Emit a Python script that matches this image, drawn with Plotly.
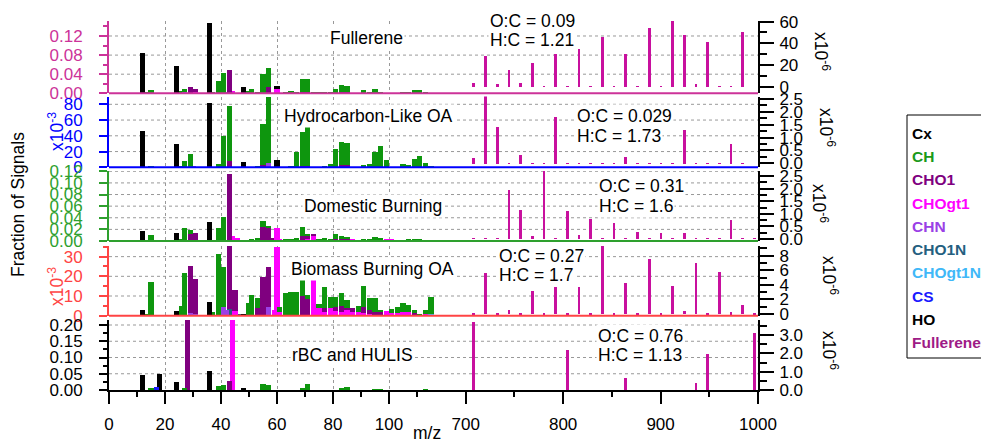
import plotly.graph_objects as go

# ---------------- data (fraction of signal; high-mass values in x10^-6) ----------------
# Panel 1: Fullerene
FUL_CX = [(12, .084), (24, .057), (36, .148), (48, .014), (60, .007)]
FUL_CH = [(13, .002), (15, .007), (25, .004), (27, .007), (37, .002), (39, .025), (41, .042),
          (50, .005), (51, .008), (53, .003), (55, .040), (57, .041), (63, .002), (65, .004),
          (67, .003), (69, .027), (71, .028), (73, .002), (75, .002), (77, .002), (79, .003),
          (81, .008), (83, .015), (85, .013), (91, .006), (93, .003), (95, .008), (97, .002),
          (105, .002), (107, .002), (109, .005), (111, .006), (113, .002)]
FUL_CHO1 = [(29, .0126), (31, .004), (43, .049), (57, .013), (69, .003), (71, .002), (83, .002),
            (85, .002), (109, .001), (111, .001)]
FUL_CHOGT1 = [(31, .004), (44, .002), (60, .008)]
FUL_CHN = [(27, .002), (30, .003), (42, .001), (44, .001)]

# Panel 2: Hydrocarbon-Like OA
HOA_CX = [(12, .0461), (24, .0296), (36, .082), (48, .0072), (60, .0093)]
HOA_CH = [(15, .0015), (26, .002), (27, .0085), (29, .0178), (39, .0042), (41, .0398), (43, .069),
          (51, .001), (53, .002), (55, .051), (57, .0827), (65, .0015), (67, .0197), (69, .0433),
          (71, .0496), (77, .002), (79, .005), (81, .024), (83, .0296), (85, .0287), (91, .004),
          (93, .005), (95, .0197), (97, .0273), (99, .0093), (105, .005), (107, .003), (109, .0118),
          (111, .0144), (113, .0063), (115, .0017)]
HOA_CHO1 = [(43, .009), (55, .004), (67, .001), (69, .002), (71, .002), (83, .003), (85, .003), (97, .001)]
HOA_CHN = [(30, .0012), (57, .0066)]
HOA_CHOGT1 = [(44, .001)]

# Panel 3: Domestic Burning
DOM_CX = [(12, .0177), (24, .013), (36, .032), (48, .0017)]
DOM_CH = [(15, .0097), (26, .002), (27, .0197), (29, .0065), (39, .0217), (41, .0385), (51, .002),
          (53, .0046), (55, .0097), (57, .002), (63, .002), (65, .0035), (67, .006), (69, .0144),
          (71, .002), (75, .003), (77, .006), (79, .004), (81, .008), (83, .004), (85, .002),
          (91, .004), (93, .003), (95, .005), (97, .003), (107, .002), (109, .003), (111, .002)]
DOM_CHO1 = [(29, .0103), (31, .0123), (43, .113), (55, .0246), (57, .022), (58, .005), (69, .009),
            (71, .006), (73, .004), (81, .004), (83, .004), (85, .002), (95, .002), (97, .002)]
DOM_CHOGT1 = [(31, .002), (44, .0086), (46, .005), (60, .0206), (61, .003), (71, .004), (73, .008),
              (85, .003), (87, .003), (99, .002), (101, .002)]
DOM_CHN = [(27, .002), (29, .002), (30, .002), (41, .002), (57, .002)]
DOM_CHO1N = [(43, .002)]
DOM_CHOGT1N = [(60, .001)]

# Panel 4: Biomass Burning OA
BB_CX = [(12, .0029), (24, .0022), (36, .0068), (48, .0004)]
BB_CH = [(13, .001), (15, .0169), (26, .0049), (27, .0215), (37, .002), (39, .0314), (41, .0203),
         (50, .0066), (51, .0105), (53, .005), (61, .0026), (63, .0114), (65, .0122), (67, .0122),
         (69, .0081), (71, .002), (75, .002), (77, .0107), (79, .0054), (81, .0051), (83, .0064),
         (85, .0042), (89, .003), (91, .0106), (93, .0059), (95, .0069), (97, .001), (101, .002),
         (103, .0031), (105, .0045), (107, .0035), (109, .0015), (111, .001), (113, .002), (115, .0084)]
BB_CHO1 = [(29, .0238), (31, .0177), (43, .032), (45, .0107), (53, .0038), (55, .0198), (57, .020),
           (69, .010), (71, .0083), (77, .002), (81, .002), (83, .003), (85, .001), (87, .002),
           (91, .003), (93, .002), (95, .002), (97, .0019), (109, .0015)]
BB_CHOGT1 = [(45, .0024), (59, .003), (60, .0339), (61, .002), (73, .0181), (75, .0038), (77, .002),
             (79, .004), (81, .0023), (83, .002), (85, .003), (87, .0018), (89, .002), (91, .0015),
             (93, .001), (99, .0023), (101, .0013), (103, .0015), (105, .002), (107, .002), (113, .001)]
BB_CHN = [(29, .0015), (31, .001), (41, .0046), (42, .003), (57, .0046)]
BB_CHO1N = [(43, .0036), (47, .0008)]
BB_CHOGT1N = [(60, .0012), (115, .001)]

# Panel 5: rBC and HULIS
RBC_CX = [(12, .046), (24, .024), (36, .058), (48, .005)]
RBC_CH = [(15, .004), (27, .005), (39, .012), (41, .014), (55, .018), (57, .014), (69, .005),
          (71, .018), (83, .006), (85, .009), (95, .002), (97, .003), (113, .001)]
RBC_CHO1 = [(28, .215), (43, .028)]
RBC_CHOGT1 = [(44, .215)]
RBC_CS = [(17, .010)]
RBC_HO = [(18, .048)]

# High-mass fullerene ions (x10^-6)
HIGH_MZ = [708, 720, 732, 744, 756, 768, 780, 792, 804, 816, 828, 840, 852,
           864, 876, 888, 900, 912, 924, 936, 948, 960, 972, 984, 996]
FUL_HIGH = [3.1, 28.6, 2.5, 15.4, 3.7, 21.5, 0.5, 30.2, 0.6, 35.0, 0.5, 46.0, 0.4,
            29.8, 0.3, 54.0, 0.2, 62.0, 48.0, 2.5, 41.0, 0.2, 0.2, 50.0, 0.0]
HOA_HIGH = [0.22, 2.75, 1.45, 0.02, 0.36, 0.02, 0.02, 1.84, 0.02, 0.02, 0.02, 0.02, 0.02,
            0.26, 0.02, 0.02, 0.02, 0.02, 1.32, 0.02, 0.02, 0.02, 0.78, 0.02, 0.0]
DOM_HIGH = [0.02, 0.02, 0.02, 1.95, 1.15, 0.13, 2.7, 0.02, 1.12, 0.15, 0.79, 0.02, 0.62,
            0.02, 0.29, 0.02, 0.22, 0.02, 0.22, 0.02, 0.02, 0.02, 0.75, 0.02, 0.02]
BB_HIGH = [0.03, 5.6, 0.03, 0.55, 0.03, 3.15, 0.03, 3.65, 0.03, 3.65, 0.03, 9.3, 0.03,
           4.2, 0.03, 7.5, 0.2, 3.9, 0.45, 7.0, 0.03, 5.8, 0.25, 1.2, 0.1]
RBC_HIGH = [3.69, 0, 0, 0, 0, 0, 0, 0, 2.18, 0, 0, 0, 0,
            0.64, 0, 0, 0, 0, 0, 0.4, 1.96, 0, 0, 0, 3.13]

PANEL_NAMES = ["Fullerene", "Hydrocarbon-Like OA", "Domestic Burning", "Biomass Burning OA", "rBC and HULIS"]
OC_TEXT = ["0.09", "0.029", "0.31", "0.27", "0.76"]
HC_TEXT = ["1.21", "1.73", "1.6", "1.7", "1.13"]
LEGEND_NAMES = ["Cx", "CH", "CHO1", "CHOgt1", "CHN", "CHO1N", "CHOgt1N", "CS", "HO", "Fullerene"]

# left-axis ticks per panel
LEFT_TICKS = [[0, .04, .08, .12], [0, .02, .04, .06, .08], [0, .02, .04, .06, .08, .10, .12],
              [0, .01, .02, .03], [0, .05, .10, .15, .20]]
LEFT_TEXT = [["0.00", "0.04", "0.08", "0.12"], ["0", "20", "40", "60", "80"],
             ["0.00", "0.02", "0.04", "0.06", "0.08", "0.10", "0.12"],
             ["0", "10", "20", "30"], ["0.00", "0.05", "0.10", "0.15", "0.20"]]
RIGHT_TICKS = [[0, 20, 40, 60], [0, .5, 1, 1.5, 2, 2.5], [0, .5, 1, 1.5, 2, 2.5], [0, 2, 4, 6, 8], [0, 1, 2, 3]]
RIGHT_TEXT = [["0", "20", "40", "60"], ["0.0", "0.5", "1.0", "1.5", "2.0", "2.5"],
              ["0.0", "0.5", "1.0", "1.5", "2.0", "2.5"], ["0", "2", "4", "6", "8"],
              ["0.0", "1.0", "2.0", "3.0"]]

# ---------------- styling ----------------
FONT = "Arial, Liberation Sans, sans-serif"
COLORS = {"Cx": "#000000", "CH": "#0E960E", "CHO1": "#7F007F", "CHOgt1": "#FF00FF",
          "CHN": "#9A40E6", "CHO1N": "#255F80", "CHOgt1N": "#40B8F8", "CS": "#1A1AFF",
          "HO": "#000000", "Fullerene": "#C8109E"}
LEG_COLORS = dict(COLORS, CH="#1A9A1A", Fullerene="#9E1B86")
AXIS_COLORS = ["#CC3399", "#0000FF", "#2EA02E", "#FF4444", "#000000"]
STACK_ORDER = ["HO", "CS", "CHOgt1N", "CHO1N", "CHN", "CHOgt1", "CHO1", "CH", "Cx"]

LOW = [
    {"Cx": FUL_CX, "CH": FUL_CH, "CHO1": FUL_CHO1, "CHOgt1": FUL_CHOGT1, "CHN": FUL_CHN},
    {"Cx": HOA_CX, "CH": HOA_CH, "CHO1": HOA_CHO1, "CHOgt1": HOA_CHOGT1, "CHN": HOA_CHN},
    {"Cx": DOM_CX, "CH": DOM_CH, "CHO1": DOM_CHO1, "CHOgt1": DOM_CHOGT1, "CHN": DOM_CHN,
     "CHO1N": DOM_CHO1N, "CHOgt1N": DOM_CHOGT1N},
    {"Cx": BB_CX, "CH": BB_CH, "CHO1": BB_CHO1, "CHOgt1": BB_CHOGT1, "CHN": BB_CHN,
     "CHO1N": BB_CHO1N, "CHOgt1N": BB_CHOGT1N},
    {"Cx": RBC_CX, "CH": RBC_CH, "CHO1": RBC_CHO1, "CHOgt1": RBC_CHOGT1, "CS": RBC_CS, "HO": RBC_HO},
]
HIGH = [FUL_HIGH, HOA_HIGH, DOM_HIGH, BB_HIGH, RBC_HIGH]

# layout geometry (pixels)
W, H = 981, 442
L, R, T, B = 109, 223, 21, 52
PW, PH = W - L - R, H - T - B
PANEL_PX = [(21, 93.3), (96.5, 167.3), (171, 241), (246, 315.7), (320, 390)]
LEFT_RANGE = [[0, .1514], [0, .0899], [0, .1205], [0, .0354], [0, .2154]]
RIGHT_RANGE = [[-6.1, 60.6], [-0.156, 2.6], [-0.08, 2.7], [-0.23, 9.33], [0, 3.82]]
LEFT_MINOR = [.02, None, None, .005, .025]
RIGHT_MINOR = [10, .25, .25, 1, .5]
BREAK_FRAC = 356.7 / PW


def px2x(px):
    return (px - L) / PW


def px2y(py):
    return 1 - (py - T) / PH


fig = go.Figure()

for p in range(5):
    ya = "y" if p == 0 else f"y{p + 1}"
    for fam in STACK_ORDER:
        pts = LOW[p].get(fam)
        if not pts:
            continue
        fig.add_trace(go.Bar(x=[m for m, v in pts], y=[v for m, v in pts], width=1.9,
                             marker=dict(color=COLORS[fam], line=dict(width=0)),
                             xaxis="x", yaxis=ya, showlegend=False, name=fam))
    fig.add_trace(go.Bar(x=HIGH_MZ, y=HIGH[p], width=2.8,
                         marker=dict(color=COLORS["Fullerene"], line=dict(width=0)),
                         xaxis="x2", yaxis=f"y{p + 6}", showlegend=False, name="Fullerene"))

tickfont = dict(family=FONT, size=17)
layout = dict(
    width=W, height=H, margin=dict(l=L, r=R, t=T, b=B, autoexpand=False),
    paper_bgcolor="white", plot_bgcolor="white", barmode="stack", bargap=0,
    font=dict(family=FONT, size=17, color="black"), showlegend=False,
    xaxis=dict(domain=[0, BREAK_FRAC], range=[0, 356.7 / 2.8], anchor="y5",
               tickmode="array", tickvals=[0, 20, 40, 60, 80, 100],
               ticks="outside", ticklen=12, tickwidth=1.5, tickcolor="black",
               minor=dict(tickmode="array", tickvals=[10, 30, 50, 70, 90, 110], ticks="outside",
                          ticklen=5, tickwidth=1.5, tickcolor="black", showgrid=False),
               showline=True, linecolor="black", linewidth=1.5, zeroline=False,
               showgrid=True, gridcolor="#999999", griddash="dot", gridwidth=1,
               tickfont=tickfont, ticklabelstandoff=6),
    xaxis2=dict(domain=[BREAK_FRAC, 1], range=[700, 1000], anchor="y10",
                tickmode="array", tickvals=[700, 800, 900, 1000],
                ticks="outside", ticklen=12, tickwidth=1.5, tickcolor="black",
                minor=dict(tickmode="array", tickvals=[750, 850, 950], ticks="outside",
                           ticklen=5, tickwidth=1.5, tickcolor="black", showgrid=False),
                showline=True, linecolor="black", linewidth=1.5, zeroline=False, showgrid=False,
                tickfont=tickfont, ticklabelstandoff=6),
)

shapes = []
annotations = []
for p in range(5):
    top, bot = PANEL_PX[p]
    dom = [px2y(bot), px2y(top)]
    col = AXIS_COLORS[p]
    lkey = "yaxis" if p == 0 else f"yaxis{p + 1}"
    ly = dict(domain=dom, range=LEFT_RANGE[p], anchor="x", side="left",
              tickmode="array", tickvals=LEFT_TICKS[p], ticktext=LEFT_TEXT[p],
              ticks="outside", ticklen=8, tickwidth=1.5, tickcolor=col,
              showline=True, linecolor=col, linewidth=2, zeroline=False, showgrid=False,
              tickfont=dict(family=FONT, size=17, color=col), ticklabelstandoff=13)
    if LEFT_MINOR[p]:
        ly["minor"] = dict(dtick=LEFT_MINOR[p], tick0=0, ticks="outside", ticklen=4,
                           tickwidth=1.5, tickcolor=col, showgrid=False)
    layout[lkey] = ly
    layout[f"yaxis{p + 6}"] = dict(
        domain=dom, range=RIGHT_RANGE[p], anchor="x2", side="right",
        tickmode="array", tickvals=RIGHT_TICKS[p], ticktext=RIGHT_TEXT[p],
        ticks="outside", ticklen=14, tickwidth=1.5, tickcolor="black",
        minor=dict(dtick=RIGHT_MINOR[p], tick0=0, ticks="outside", ticklen=7,
                   tickwidth=1.5, tickcolor="black", showgrid=False),
        showline=True, linecolor="black", linewidth=2, zeroline=False, showgrid=False,
        tickfont=dict(family=FONT, size=17, color="black"), ticklabelstandoff=2)

    yref = "y" if p == 0 else f"y{p + 1}"
    # horizontal dotted grid across the whole panel (left-axis major ticks)
    for v in LEFT_TICKS[p][1:]:
        if v < LEFT_RANGE[p][1] - 1e-4:
            shapes.append(dict(type="line", xref="paper", yref=yref, x0=0, x1=1, y0=v, y1=v,
                               line=dict(color="#999999", width=1, dash="dot"), layer="below"))
    # coloured panel baseline
    if p < 4:
        shapes.append(dict(type="line", xref="paper", yref=f"{yref} domain", x0=0, x1=1, y0=0, y1=0,
                           line=dict(color=col, width=2), layer="above"))

    # panel titles and O:C / H:C boxes
    title_pos = [(366, 38), (368, 116), (373, 206), (372, 269), (352, 355)][p]
    annotations.append(dict(text=PANEL_NAMES[p], xref="paper", yref="paper",
                            x=px2x(title_pos[0]), y=px2y(title_pos[1]), xanchor="center", yanchor="middle",
                            showarrow=False, bgcolor="white", borderpad=1,
                            font=dict(family=FONT, size=17.5, color="black")))
    oc_pos = [(488, 21, 40), (575, 116, 136), (597, 186, 206), (497, 256, 275), (596, 336, 355)][p]
    annotations.append(dict(text=f"O:C = {OC_TEXT[p]}", xref="paper", yref="paper",
                            x=px2x(oc_pos[0]), y=px2y(oc_pos[1]), xanchor="left", yanchor="middle",
                            showarrow=False, bgcolor="white", borderpad=1,
                            font=dict(family=FONT, size=17.5, color="black")))
    annotations.append(dict(text=f"H:C = {HC_TEXT[p]}", xref="paper", yref="paper",
                            x=px2x(oc_pos[0]), y=px2y(oc_pos[2]), xanchor="left", yanchor="middle",
                            showarrow=False, bgcolor="white", borderpad=1,
                            font=dict(family=FONT, size=17.5, color="black")))
    # right-axis multiplier
    r_pos = [(822, 51), (827, 127), (820, 203), (830, 275), (830, 350)][p]
    annotations.append(dict(text="x10<sup>-6</sup>", xref="paper", yref="paper",
                            x=px2x(r_pos[0]), y=px2y(r_pos[1]), xanchor="center", yanchor="middle",
                            textangle=90, showarrow=False,
                            font=dict(family=FONT, size=17.5, color="black")))

# left-axis multipliers
for (py, col) in [(132, AXIS_COLORS[1]), (287, AXIS_COLORS[3])]:
    annotations.append(dict(text="x10<sup>-3</sup>", xref="paper", yref="paper",
                            x=px2x(56), y=px2y(py), xanchor="center", yanchor="middle",
                            textangle=-90, showarrow=False,
                            font=dict(family=FONT, size=17.5, color=col)))

annotations.append(dict(text="Fraction of Signals", xref="paper", yref="paper",
                        x=px2x(18), y=px2y(205), xanchor="center", yanchor="middle",
                        textangle=-90, showarrow=False, font=dict(family=FONT, size=17.5, color="black")))
annotations.append(dict(text="m/z", xref="paper", yref="paper",
                        x=px2x(427), y=px2y(433), xanchor="center", yanchor="middle",
                        showarrow=False, font=dict(family=FONT, size=17.5, color="black")))

# legend box made of coloured labels
shapes.append(dict(type="rect", xref="paper", yref="paper", x0=px2x(907), x1=px2x(1000),
                   y0=px2y(358), y1=px2y(115), line=dict(color="black", width=1),
                   fillcolor="white", layer="above"))
for i, name in enumerate(LEGEND_NAMES):
    annotations.append(dict(text=f"<b>{name}</b>", xref="paper", yref="paper",
                            x=px2x(910), y=px2y(133.3 + 23.27 * i), xanchor="left", yanchor="middle",
                            showarrow=False, font=dict(family=FONT, size=15.5, color=LEG_COLORS[name])))

layout["shapes"] = shapes
layout["annotations"] = annotations
fig.update_layout(**layout)
fig.write_html("out.html", config={"displayModeBar": False},
               post_script="document.body.style.margin='0px';document.body.style.padding='0px';"
                           "document.body.style.overflow='hidden';")
